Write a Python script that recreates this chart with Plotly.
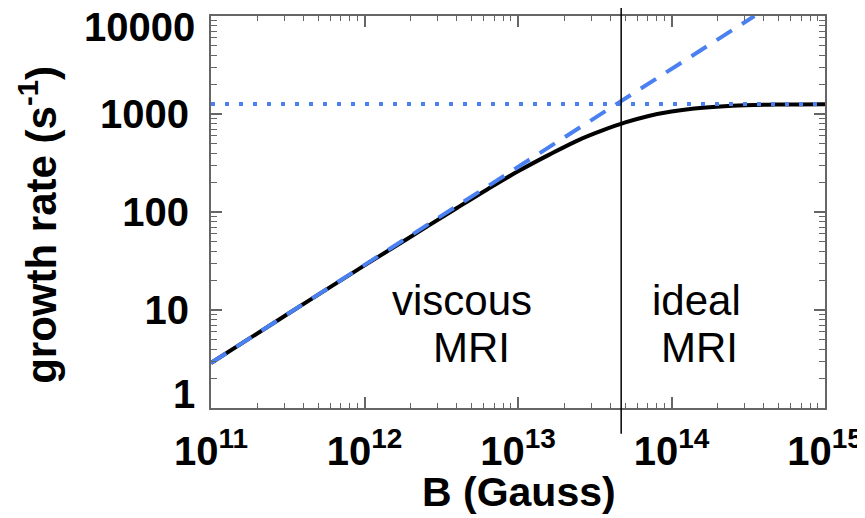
import plotly.graph_objects as go

# ---- data ----
B_curve = [1e11, 3.16e11, 1e12, 2e12, 4e12, 6.3e12, 1e13, 1.6e13, 2.5e13,
           3.55e13, 5e13, 7.1e13, 1e14, 1.6e14, 2.5e14, 5e14, 1e15]
growth_curve = [2.88, 9.1, 28.5, 56, 110, 170, 260, 385, 545,
                680, 820, 955, 1060, 1160, 1215, 1248, 1260]

B_viscous = [1e11, 3.47e14]
growth_viscous = [2.88, 10000]

B_ideal = [1e11, 1e15]
growth_ideal = [1265, 1265]

B_transition = 4.7e13

x_tickvals = [1e11, 1e12, 1e13, 1e14, 1e15]
x_ticktext = ["10<sup>11</sup>", "10<sup>12</sup>", "10<sup>13</sup>",
              "10<sup>14</sup>", "10<sup>15</sup>"]
y_tickvals = [1, 10, 100, 1000, 10000]
y_ticktext = ["1", "10", "100", "1000", "10000"]

BLUE = "#4A80F0"
FONT = "Liberation Sans"
AXC = "#666666"

x_minor = [m * 10 ** e for e in range(11, 15) for m in range(2, 10)]
y_minor = [m * 10 ** e for e in range(0, 4) for m in range(2, 10)]

fig = go.Figure()
fig.add_trace(go.Scatter(x=B_curve, y=growth_curve, mode="lines",
                         line=dict(color="black", width=4, shape="spline", smoothing=1.0),
                         showlegend=False, hoverinfo="skip"))
fig.add_trace(go.Scatter(x=B_viscous, y=growth_viscous, mode="lines",
                         line=dict(color=BLUE, width=4, dash="18px,12px"),
                         showlegend=False, hoverinfo="skip"))
fig.add_trace(go.Scatter(x=B_ideal, y=growth_ideal, mode="lines",
                         line=dict(color=BLUE, width=4, dash="4px,10px"),
                         showlegend=False, hoverinfo="skip"))

fig.add_shape(type="line", xref="x", yref="paper", x0=B_transition, x1=B_transition,
              y0=-0.066, y1=1.028, line=dict(color="black", width=1.5))

tick_font = dict(family=FONT, size=40, color="black", weight="bold")
axis_common = dict(
    showgrid=False, zeroline=False, showline=True, linecolor=AXC, linewidth=2,
    mirror="ticks", ticks="inside", ticklen=11, tickwidth=1.5, tickcolor=AXC,
    automargin=False, ticklabeloverflow="allow", tickfont=tick_font,
)

# end labels of the y axis sit inside the axis span (drawn as annotations below)
y_axis_text = [t if t not in (y_ticktext[0], y_ticktext[-1]) else "" for t in y_ticktext]

fig.update_xaxes(type="log", range=[11, 15], tickmode="array",
                 tickvals=x_tickvals, ticktext=x_ticktext, ticklabelstandoff=7,
                 minor=dict(tickmode="array", tickvals=x_minor, ticks="inside",
                            ticklen=5, tickwidth=1.2, tickcolor=AXC),
                 **axis_common)
fig.update_yaxes(type="log", range=[0, 4], tickmode="array",
                 tickvals=y_tickvals, ticktext=y_axis_text, ticklabelstandoff=12,
                 minor=dict(tickmode="array", tickvals=y_minor, ticks="inside",
                            ticklen=6, tickwidth=1.2, tickcolor=AXC),
                 **axis_common)

ann = []
ann.append(dict(text=y_ticktext[-1], xref="paper", yref="paper", x=-0.0228, y=0.9707,
                showarrow=False, font=tick_font, xanchor="right", yanchor="middle"))
ann.append(dict(text=y_ticktext[0], xref="paper", yref="paper", x=-0.0228, y=0.0357,
                showarrow=False, font=tick_font, xanchor="right", yanchor="middle"))
ann.append(dict(text="B (Gauss)", xref="paper", yref="paper", x=0.5016, y=-0.214,
                showarrow=False, font=dict(family=FONT, size=41, color="black", weight="bold"),
                xanchor="center", yanchor="middle"))
ann.append(dict(text="growth rate (s<sup>-1</sup>)", xref="paper", yref="paper",
                x=-0.282, y=0.467, textangle=-90, showarrow=False,
                font=dict(family=FONT, size=42, color="black", weight="bold"),
                xanchor="center", yanchor="middle"))
label_font = dict(family=FONT, size=42, color="black")
ann.append(dict(text="viscous", xref="paper", yref="paper", x=0.409, y=0.2755,
                showarrow=False, font=label_font, xanchor="center", yanchor="middle"))
ann.append(dict(text="MRI", xref="paper", yref="paper", x=0.424, y=0.154,
                showarrow=False, font=label_font, xanchor="center", yanchor="middle"))
ann.append(dict(text="ideal", xref="paper", yref="paper", x=0.7915, y=0.2755,
                showarrow=False, font=label_font, xanchor="center", yanchor="middle"))
ann.append(dict(text="MRI", xref="paper", yref="paper", x=0.796, y=0.154,
                showarrow=False, font=label_font, xanchor="center", yanchor="middle"))

# the page body keeps the browser's 8px margin, so the figure is 8px smaller
fig.update_layout(width=857, height=510, margin=dict(l=203, r=40, t=8, b=110),
                  plot_bgcolor="white", paper_bgcolor="white", annotations=ann)

fig.write_html("out.html")
